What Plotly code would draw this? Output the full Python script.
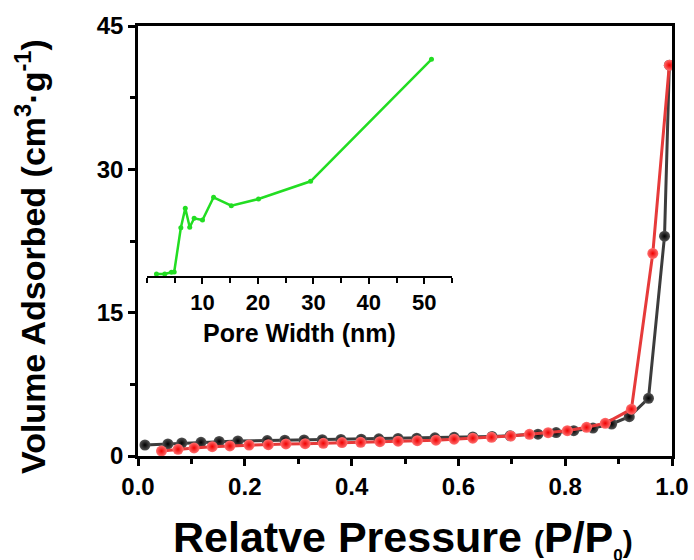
import plotly.graph_objects as go

# Main isotherm data
black_p = [0.013, 0.056, 0.082, 0.118, 0.152, 0.187, 0.242, 0.275, 0.311, 0.345, 0.380, 0.418,
           0.451, 0.487, 0.522, 0.556, 0.592, 0.627, 0.663, 0.697, 0.749, 0.783, 0.816, 0.852,
           0.887, 0.920, 0.956, 0.986, 0.995]
black_v = [1.15, 1.26, 1.36, 1.43, 1.52, 1.57, 1.62, 1.65, 1.68, 1.70, 1.73, 1.76,
           1.80, 1.83, 1.87, 1.90, 1.95, 2.00, 2.05, 2.12, 2.28, 2.45, 2.65, 2.92,
           3.35, 4.12, 6.04, 23.0, 40.9]

red_p = [0.044, 0.075, 0.105, 0.139, 0.172, 0.208, 0.244, 0.277, 0.313, 0.347, 0.382, 0.417,
         0.453, 0.487, 0.523, 0.558, 0.592, 0.627, 0.662, 0.698, 0.733, 0.768, 0.804, 0.840,
         0.875, 0.924, 0.964, 0.995]
red_v = [0.52, 0.70, 0.84, 0.98, 1.05, 1.15, 1.18, 1.26, 1.29, 1.33, 1.40, 1.43,
         1.50, 1.55, 1.60, 1.66, 1.76, 1.86, 1.96, 2.09, 2.27, 2.44, 2.65, 3.00,
         3.42, 4.90, 21.2, 40.9]

# Inset pore size distribution (arbitrary units)
pore_w = [1.7, 3.2, 4.4, 4.9, 6.1, 6.9, 7.7, 8.5, 10.0, 12.0, 15.2, 20.1, 29.5, 51.3]
pore_v = [2.0, 2.0, 3.7, 4.0, 48.3, 67.7, 48.7, 57.7, 56.0, 78.7, 70.3, 77.0, 94.7, 216.7]

x_ticks = [0.0, 0.2, 0.4, 0.6, 0.8, 1.0]
y_ticks = [0, 15, 30, 45]
inset_ticks = [10, 20, 30, 40, 50]

FONT = "Liberation Sans, Arial, sans-serif"

fig = go.Figure()

fig.add_trace(go.Scatter(
    x=black_p, y=black_v, mode="lines+markers",
    line=dict(color="#3c3c3c", width=3),
    marker=dict(size=11, color="#555555", gradient=dict(type="radial", color="#000000"),
                line=dict(width=0)),
    xaxis="x", yaxis="y", showlegend=False))

fig.add_trace(go.Scatter(
    x=red_p, y=red_v, mode="lines+markers",
    line=dict(color="#e63a3a", width=3),
    marker=dict(size=11, color="#ff7070", gradient=dict(type="radial", color="#f00000"),
                line=dict(width=0)),
    xaxis="x", yaxis="y", showlegend=False))

fig.add_trace(go.Scatter(
    x=pore_w, y=pore_v, mode="lines+markers",
    line=dict(color="#22dd22", width=2.5),
    marker=dict(size=5, color="#22dd22"),
    xaxis="x2", yaxis="y2", showlegend=False))

axis_common = dict(showgrid=False, zeroline=False, linecolor="black", linewidth=2.5,
                   ticks="outside", tickwidth=2.5, tickcolor="black", ticklen=7,
                   automargin=False,
                   tickfont=dict(family=FONT, size=24, color="black", weight="bold"))

fig.update_layout(
    width=694, height=560,
    margin=dict(l=138, r=22, t=26, b=104),
    paper_bgcolor="white", plot_bgcolor="white",
    xaxis=dict(range=[0, 1], domain=[0, 1], tickvals=x_ticks,
               ticktext=[f"{v:.1f}" for v in x_ticks], mirror=True,
               minor=dict(dtick=0.1, ticklen=5, tickwidth=2.5, tickcolor="black", ticks="outside"),
               **axis_common),
    yaxis=dict(range=[0, 45], domain=[0, 1], tickvals=y_ticks, mirror=True,
               minor=dict(dtick=7.5, ticklen=5, tickwidth=2.5, tickcolor="black", ticks="outside"),
               **axis_common),
    xaxis2=dict(range=[0, 55], domain=[0.0169, 0.588], anchor="y2", tickvals=inset_ticks,
                showgrid=False, zeroline=False, showline=True, linecolor="black", linewidth=2,
                ticks="outside", ticklen=6, tickwidth=2, tickcolor="black", automargin=False,
                minor=dict(dtick=5, ticklen=5, tickwidth=2, tickcolor="black", ticks="outside"),
                tickfont=dict(family=FONT, size=22, color="black", weight="bold")),
    yaxis2=dict(range=[0, 230], domain=[0.4186, 0.9535], anchor="x2", visible=False),
)

fig.add_annotation(
    text="Pore Width (nm)", xref="paper", yref="paper",
    x=(299 - 138) / 534, y=(456 - 333) / 430, xanchor="center", yanchor="middle",
    showarrow=False, font=dict(family=FONT, size=25, color="black", weight="bold"))

fig.add_annotation(
    text="Relatve Pressure <span style='font-size:30px'>(</span>P/P<sub><span style='font-size:17px'>0</span></sub><span style='font-size:30px'>)</span>",
    xref="paper", yref="paper", x=(403 - 138) / 534, y=(456 - 539) / 430,
    xanchor="center", yanchor="middle", showarrow=False,
    font=dict(family=FONT, size=43, color="black", weight="bold"))

fig.add_annotation(
    text="Volume Adsorbed (cm<sup>3</sup>·g<sup>-1</sup>)",
    xref="paper", yref="paper", x=(30 - 138) / 534, y=(456 - 257) / 430,
    xanchor="center", yanchor="middle", textangle=-90, showarrow=False,
    font=dict(family=FONT, size=34, color="black", weight="bold"))

fig.write_html("out.html")
